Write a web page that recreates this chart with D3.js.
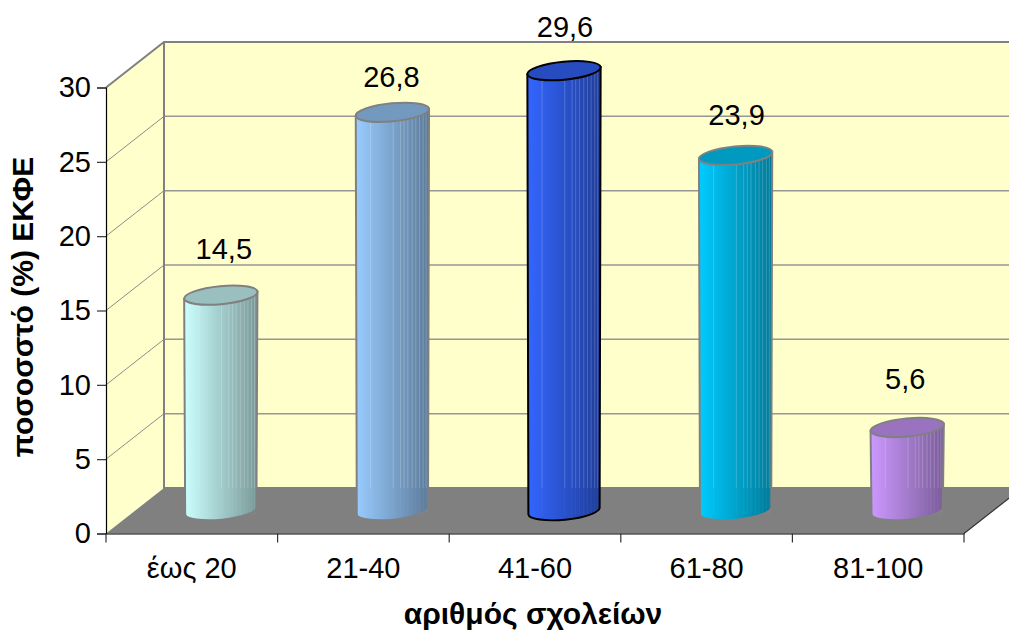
<!DOCTYPE html>
<html>
<head>
<meta charset="utf-8">
<script src="https://cdn.jsdelivr.net/npm/d3@7/dist/d3.min.js"></script>
<style>
html,body{margin:0;padding:0;background:#fff;overflow:hidden}
svg{display:block}
text{font-family:"Liberation Sans",Arial,sans-serif;fill:#000}
</style>
</head>
<body>
<svg id="chart" width="1009" height="630"></svg>
<script>
// Share of EKFE by number of schools served
const categories = ["έως 20", "21-40", "41-60", "61-80", "81-100"];
const values = [14.5, 26.8, 29.6, 23.9, 5.6];
const valueLabels = ["14,5", "26,8", "29,6", "23,9", "5,6"];
const yTicks = [0, 5, 10, 15, 20, 25, 30];
const yTitle = "ποσοσστό (%) ΕΚΦΕ";
const xTitle = "αριθμός σχολείων";

// Cylinder shading per category: lit side, shaded side, cap
const lightColors = ["#CCFFFF", "#99CCFF", "#3366FF", "#00CCFF", "#CC99FF"];
const darkColors = ["#7A9999", "#5C7A99", "#1F3D99", "#007A99", "#7A5C99"];
const capColors = ["#99BFBF", "#7399BF", "#264CBF", "#0099BF", "#9973BF"];
const edgeColors = ["#808080", "#808080", "#000000", "#808080", "#808080"];
const labelLift = [47, 36, 44, 41, 49];
const labelShift = [3, -1, 1, 1, -2];
const facets = [0.2, 0.51, 0.61, 0.66, 0.71, 0.77, 0.82, 0.87, 0.92, 0.96];

const svg = d3.select("#chart");
const frontLeft = 106, frontRight = 964, frontBottom = 533.5, frontTop = 87.5;
const depthX = 58, depthY = -45.5;
const wallRight = frontRight + depthX;
const fontSize = 29, titleSize = 30;

const y = d3.scaleLinear().domain([0, 30]).range([frontBottom, frontTop]);
const x = d3.scaleBand().domain(categories).range([frontLeft, frontRight]);
const shiftY = v => y(v) + depthY;

// Side wall, back wall and floor
const wallFill = "#FFFFCC", wallEdge = "#808080";
svg.append("polygon").attr("fill", wallFill)
  .attr("points", [[frontLeft, y(0)], [frontLeft, y(30)], [frontLeft + depthX, shiftY(30)], [frontLeft + depthX, shiftY(0)]].join(" "));
svg.append("rect").attr("fill", wallFill)
  .attr("x", frontLeft + depthX).attr("y", shiftY(30))
  .attr("width", wallRight - frontLeft - depthX).attr("height", y(0) - y(30));
svg.append("polygon").attr("fill", "#808080")
  .attr("points", [[frontLeft, y(0)], [frontRight, y(0)], [wallRight, shiftY(0)], [frontLeft + depthX, shiftY(0)]].join(" "));

// Gridlines wrap from the side wall onto the back wall
yTicks.filter(t => t > 0 && t < 30).forEach(t => {
  svg.append("line").attr("stroke", "#969696").attr("stroke-width", 1.5)
    .attr("x1", frontLeft + depthX).attr("x2", wallRight).attr("y1", shiftY(t)).attr("y2", shiftY(t));
  svg.append("line").attr("stroke", "#8c8c8c").attr("stroke-width", 1)
    .attr("x1", frontLeft).attr("x2", frontLeft + depthX).attr("y1", y(t)).attr("y2", shiftY(t));
});
svg.append("path").attr("fill", "none").attr("stroke", wallEdge).attr("stroke-width", 2)
  .attr("d", `M${frontLeft},${y(30)} L${frontLeft + depthX},${shiftY(30)} H${wallRight}`);
svg.append("path").attr("fill", "none").attr("stroke", wallEdge).attr("stroke-width", 2)
  .attr("d", `M${frontLeft + depthX},${shiftY(30)} V${shiftY(0)} H${wallRight}`);
svg.append("line").attr("stroke", "#333").attr("stroke-width", 1.2)
  .attr("x1", frontRight).attr("y1", y(0)).attr("x2", wallRight).attr("y2", shiftY(0));

// Gradients for the cylinder bodies
const defs = svg.append("defs");
categories.forEach((c, i) => {
  const g = defs.append("linearGradient").attr("id", "body" + i);
  g.append("stop").attr("offset", "0").attr("stop-color", lightColors[i]);
  g.append("stop").attr("offset", "1").attr("stop-color", darkColors[i]);
});

// Cylinders stand halfway back on the floor
const rx = 36.8, ry = 9, tilt = -5.5;
const tipX = rx * Math.cos(tilt * Math.PI / 180), tipY = rx * Math.sin(tilt * Math.PI / 180);
const cx = c => x(c) + x.bandwidth() / 2 + depthX / 2;
const levelY = v => y(v) + depthY / 2;

const bars = svg.selectAll("g.bar").data(categories).join("g").attr("class", "bar");
bars.append("path")
  .attr("fill", (c, i) => `url(#body${i})`)
  .attr("stroke", (c, i) => edgeColors[i])
  .attr("stroke-width", 2)
  .attr("d", (c, i) => {
    const X = cx(c), top = levelY(values[i]), base = levelY(0);
    return `M${X - tipX},${top - tipY} L${X - tipX + 1},${base - tipY}
            A${rx - 1},${ry} ${tilt} 0 0 ${X + tipX - 1},${base + tipY}
            L${X + tipX},${top + tipY} Z`;
  });
// Facet seams: light against the wall, faint over the floor
bars.each(function (c, i) {
  const g = d3.select(this), X = cx(c), top = levelY(values[i]), back = shiftY(0), base = levelY(0);
  facets.forEach(f => {
    const fx = X - tipX + f * 2 * tipX;
    g.append("line").attr("stroke", "#fff").attr("stroke-opacity", 0.2).attr("stroke-width", 1)
      .attr("x1", fx).attr("x2", fx).attr("y1", top).attr("y2", back);
    g.append("line").attr("stroke", "#fff").attr("stroke-opacity", 0.05).attr("stroke-width", 1)
      .attr("x1", fx).attr("x2", fx).attr("y1", back).attr("y2", base + 4);
  });
});
bars.append("ellipse")
  .attr("rx", rx).attr("ry", ry)
  .attr("transform", (c, i) => `translate(${cx(c)},${levelY(values[i])}) rotate(${tilt})`)
  .attr("fill", (c, i) => capColors[i])
  .attr("stroke", (c, i) => edgeColors[i])
  .attr("stroke-width", 2);

// Value labels
svg.selectAll("text.value").data(categories).join("text").attr("class", "value")
  .attr("x", (c, i) => cx(c) + labelShift[i])
  .attr("y", (c, i) => levelY(values[i]) - labelLift[i] + 10.5)
  .attr("text-anchor", "middle")
  .attr("font-size", fontSize)
  .text((c, i) => valueLabels[i]);

// Axes
const yAxis = d3.axisLeft(y).tickValues(yTicks).tickSize(9).tickPadding(6);
const gy = svg.append("g").attr("transform", `translate(${frontLeft},0)`).call(yAxis);
gy.selectAll("text").attr("font-size", fontSize).style("font-family", '"Liberation Sans",Arial,sans-serif');
gy.selectAll("line").attr("stroke", "#333").attr("stroke-width", 1.2);
gy.select(".domain").attr("stroke", "#000").attr("stroke-width", 1.2);

const xAxis = d3.axisBottom(x).tickSize(0).tickPadding(23.5);
const gx = svg.append("g").attr("transform", `translate(0,${frontBottom})`).call(xAxis);
gx.selectAll("text").attr("font-size", fontSize).style("font-family", '"Liberation Sans",Arial,sans-serif');
gx.select(".domain").attr("stroke", "#000").attr("stroke-width", 1.2);
gx.selectAll(".boundary").data(d3.range(categories.length + 1)).join("line").attr("class", "boundary")
  .attr("x1", i => frontLeft + i * x.bandwidth()).attr("x2", i => frontLeft + i * x.bandwidth())
  .attr("y1", 0).attr("y2", 9).attr("stroke", "#333").attr("stroke-width", 1.2);

// Axis titles
svg.append("text").attr("transform", "translate(33,307) rotate(-90)")
  .attr("text-anchor", "middle").attr("font-size", titleSize).attr("font-weight", 700).text(yTitle);
svg.append("text").attr("x", 533).attr("y", 623.5)
  .attr("text-anchor", "middle").attr("font-size", titleSize).attr("font-weight", 700).text(xTitle);
</script>
</body>
</html>
